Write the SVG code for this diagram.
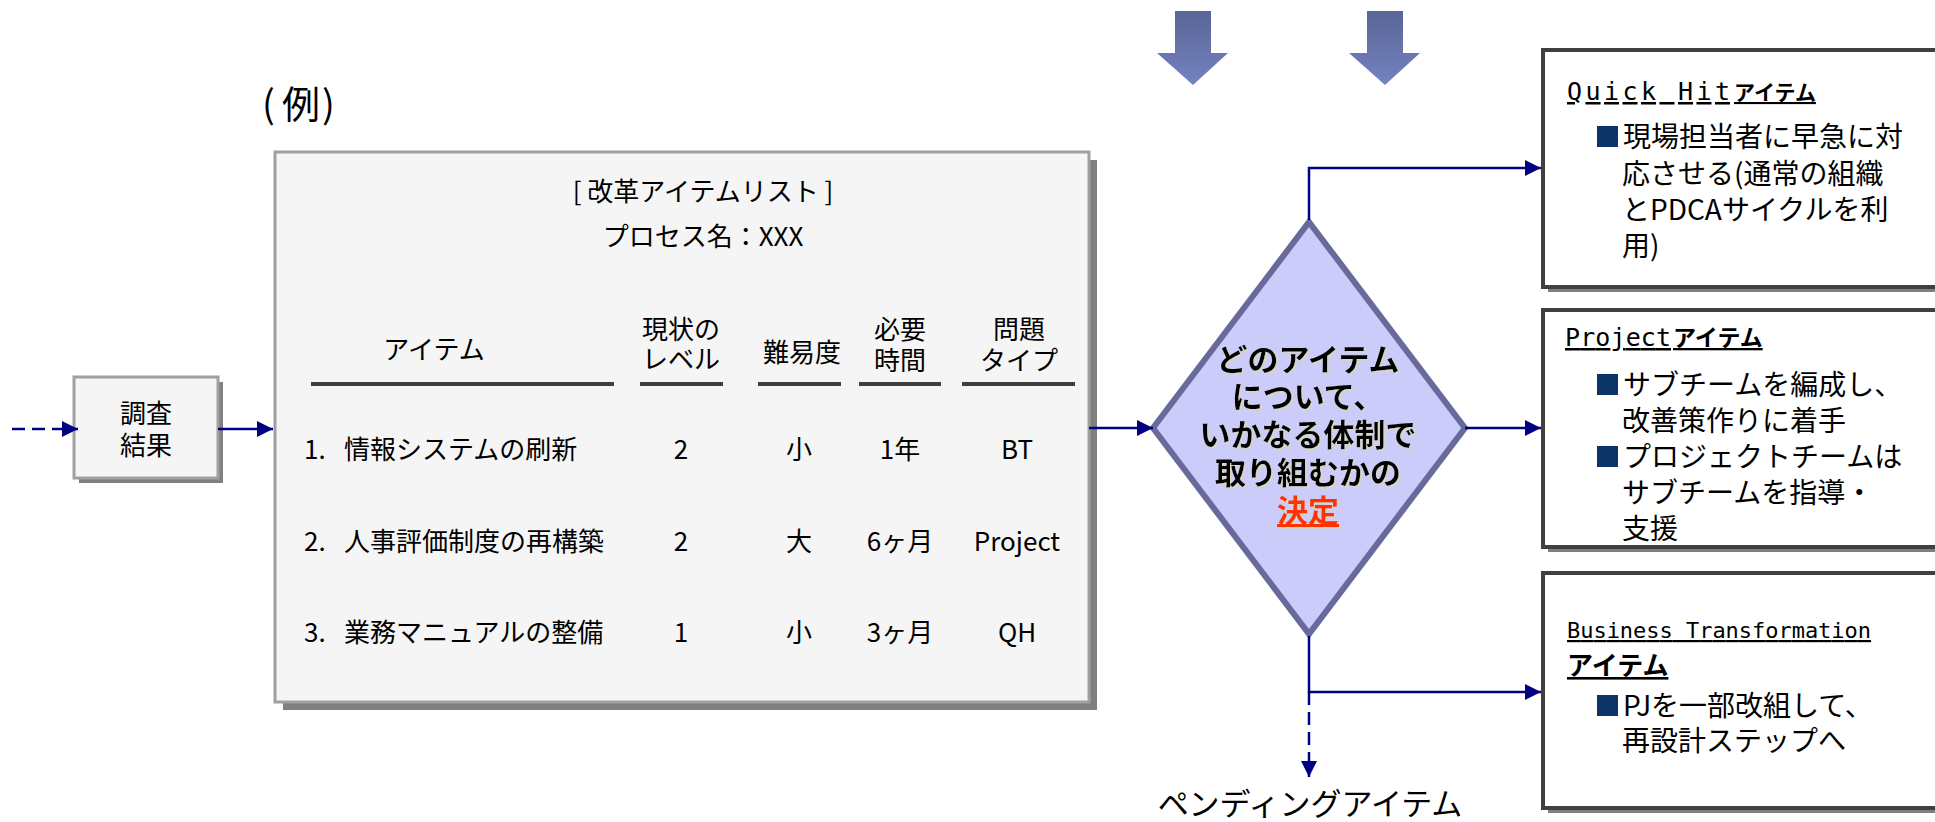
<svg xmlns="http://www.w3.org/2000/svg" width="1935" height="822" viewBox="0 0 1935 822">
<style>
text{font-family:"Noto Sans CJK JP","Noto Sans",sans-serif;fill:#000}
.t26{font-size:26px}
.mid{text-anchor:middle}
.dia{font-size:31px;font-weight:700;text-anchor:middle}
.body{font-size:28px}
.ttl{font-family:"DejaVu Sans Mono","Liberation Mono",monospace;text-decoration:underline}
.ttlj{font-weight:700;text-decoration:underline}
.conn{fill:none;stroke:#000080;stroke-width:2.5}
.dash{stroke-dasharray:13 7}
.shadow{fill:#808080}
.gbox{fill:#f5f5f5;stroke:#a0a0a0;stroke-width:3}
.rbox{fill:#fff;stroke:#404040;stroke-width:4}
.ul{stroke:#404040;stroke-width:4}
.bul{fill:#0c3464}
</style>
<defs>
<marker id="ah" markerUnits="userSpaceOnUse" markerWidth="16" markerHeight="16" refX="16" refY="8" orient="auto">
<path d="M0,0 L16,8 L0,16 z" fill="#000080"/>
</marker>
<linearGradient id="bg" x1="0" y1="0" x2="0" y2="1">
<stop offset="0" stop-color="#5a6597"/>
<stop offset="1" stop-color="#7482c0"/>
</linearGradient>
<filter id="tshadow" x="-5%" y="-10%" width="110%" height="120%">
<feDropShadow dx="1.5" dy="1.5" stdDeviation="0.4" flood-color="#d8d8bc" flood-opacity="0.9"/>
</filter>
</defs>

<g id="example-label">
<text y="118" style="font-size:38px"><tspan x="262">(</tspan><tspan x="282">例</tspan><tspan x="322">)</tspan></text>
</g>

<g id="input-arrows">
<path d="M1175,11 H1211 V53 H1228 L1193,85 L1157,53 H1175 Z" fill="url(#bg)"/>
<path d="M1367,11 H1403 V53 H1420 L1385,85 L1349,53 H1367 Z" fill="url(#bg)"/>
</g>

<g id="node-survey">
<rect x="79" y="382" width="144" height="101" class="shadow"/>
<rect x="74" y="377" width="144" height="101" class="gbox"/>
<text class="t26 mid"><tspan x="146" y="423">調査</tspan><tspan x="146" y="455">結果</tspan></text>
</g>

<g id="node-list">
<rect x="283" y="160" width="814" height="550" class="shadow"/>
<rect x="275" y="152" width="814" height="550" class="gbox"/>
<text class="t26 mid"><tspan x="703" y="201">[ 改革アイテムリスト ]</tspan><tspan x="703" y="246">プロセス名：XXX</tspan></text>
<text x="434" y="359" class="t26 mid">アイテム</text>
<text class="t26 mid"><tspan x="681" y="339">現状の</tspan><tspan x="681" y="369">レベル</tspan></text>
<text x="802" y="362" class="t26 mid">難易度</text>
<text class="t26 mid"><tspan x="900" y="339">必要</tspan><tspan x="900" y="370">時間</tspan></text>
<text class="t26 mid"><tspan x="1019" y="339">問題</tspan><tspan x="1019" y="370">タイプ</tspan></text>
<line x1="311" y1="384" x2="614" y2="384" class="ul"/>
<line x1="640" y1="384" x2="723" y2="384" class="ul"/>
<line x1="758" y1="384" x2="841" y2="384" class="ul"/>
<line x1="859" y1="384" x2="941" y2="384" class="ul"/>
<line x1="962" y1="384" x2="1075" y2="384" class="ul"/>

<text y="459" class="t26"><tspan x="304">1.</tspan><tspan x="344">情報システムの刷新</tspan></text>
<text x="681" y="459" class="t26 mid">2</text>
<text x="799" y="459" class="t26 mid">小</text>
<text x="900" y="459" class="t26 mid">1年</text>
<text x="1017" y="459" class="t26 mid">BT</text>

<text y="551" class="t26"><tspan x="304">2.</tspan><tspan x="344">人事評価制度の再構築</tspan></text>
<text x="681" y="551" class="t26 mid">2</text>
<text x="799" y="551" class="t26 mid">大</text>
<text x="900" y="551" class="t26 mid">6ヶ月</text>
<text x="1017" y="551" class="t26 mid">Project</text>

<text y="642" class="t26"><tspan x="304">3.</tspan><tspan x="344">業務マニュアルの整備</tspan></text>
<text x="681" y="642" class="t26 mid">1</text>
<text x="799" y="642" class="t26 mid">小</text>
<text x="900" y="642" class="t26 mid">3ヶ月</text>
<text x="1017" y="642" class="t26 mid">QH</text>
</g>

<g id="node-decision">
<polygon points="1309,222 1465,428 1309,634 1153,428" fill="#ccccfa" stroke="#676a9a" stroke-width="6" stroke-linejoin="miter"/>
<text class="dia" filter="url(#tshadow)"><tspan x="1308" y="371">どのアイテム</tspan><tspan x="1308" y="408">について、</tspan><tspan x="1308" y="446">いかなる体制で</tspan><tspan x="1308" y="484">取り組むかの</tspan><tspan x="1308" y="522" style="fill:#ff3300;text-decoration:underline">決定</tspan></text>
</g>

<g id="node-quickhit">
<rect x="1548" y="55" width="420" height="237" class="shadow"/>
<rect x="1543" y="50" width="420" height="237" class="rbox"/>
<text x="1567" y="100" class="ttl" style="font-size:25px" textLength="163" lengthAdjust="spacing">Quick Hit</text>
<text x="1734" y="100" class="ttlj" style="font-size:21px">アイテム</text>
<rect x="1597" y="126" width="21" height="21" class="bul"/>
<text class="body"><tspan x="1623" y="147">現場担当者に早急に対</tspan><tspan x="1622" y="184">応させる(通常の組織</tspan><tspan x="1622" y="220">とPDCAサイクルを利</tspan><tspan x="1622" y="256">用)</tspan></text>
</g>

<g id="node-project">
<rect x="1548" y="315" width="420" height="237" class="shadow"/>
<rect x="1543" y="310" width="420" height="237" class="rbox"/>
<text x="1565" y="346" class="ttl" style="font-size:25px" textLength="106" lengthAdjust="spacing">Project</text>
<text x="1673" y="346" class="ttlj" style="font-size:23px">アイテム</text>
<rect x="1597" y="374" width="21" height="21" class="bul"/>
<rect x="1597" y="446" width="21" height="21" class="bul"/>
<text class="body"><tspan x="1623" y="395">サブチームを編成し、</tspan><tspan x="1622" y="431">改善策作りに着手</tspan><tspan x="1623" y="467">プロジェクトチームは</tspan><tspan x="1622" y="503">サブチームを指導・</tspan><tspan x="1622" y="539">支援</tspan></text>
</g>

<g id="node-bt">
<rect x="1548" y="578" width="420" height="235" class="shadow"/>
<rect x="1543" y="573" width="420" height="235" class="rbox"/>
<text x="1567" y="638" class="ttl" style="font-size:22px" textLength="304" lengthAdjust="spacing">Business Transformation</text>
<text x="1567" y="675" class="ttlj" style="font-size:26px">アイテム</text>
<rect x="1597" y="695" width="21" height="21" class="bul"/>
<text class="body"><tspan x="1623" y="716">PJを一部改組して、</tspan><tspan x="1622" y="751">再設計ステップへ</tspan></text>
</g>

<g id="pending-label">
<text x="1310" y="815" class="mid" style="font-size:31px">ペンディングアイテム</text>
</g>

<g id="connectors">
<path d="M12,429 H78" class="conn dash" marker-end="url(#ah)"/>
<path d="M218,429 H273" class="conn" marker-end="url(#ah)"/>
<path d="M1089,428 H1153" class="conn" marker-end="url(#ah)"/>
<path d="M1309,220 V168 H1541" class="conn" marker-end="url(#ah)"/>
<path d="M1465,428 H1541" class="conn" marker-end="url(#ah)"/>
<path d="M1309,636 V692 H1541" class="conn" marker-end="url(#ah)"/>
<path d="M1309,692 V777" class="conn dash" marker-end="url(#ah)"/>
</g>
</svg>
